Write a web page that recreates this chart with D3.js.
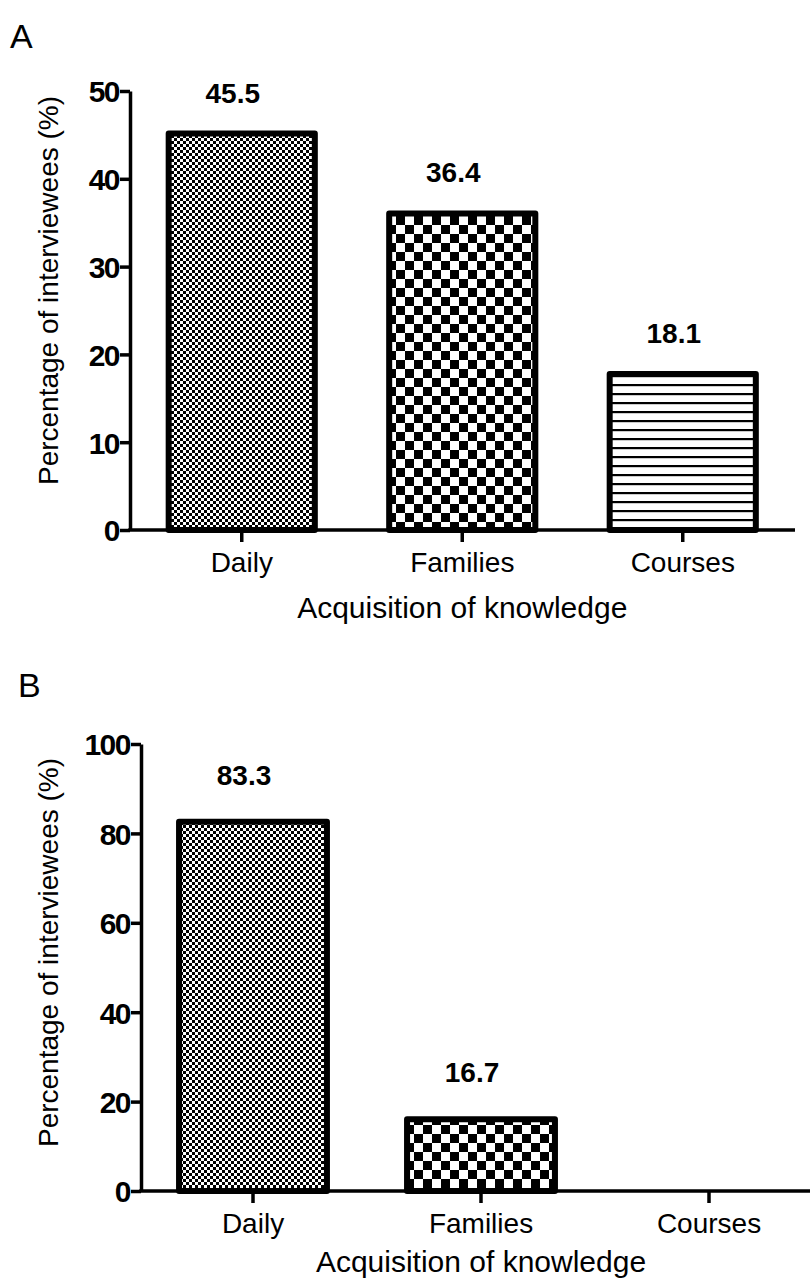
<!DOCTYPE html>
<html>
<head>
<meta charset="utf-8">
<script src="https://cdn.jsdelivr.net/npm/d3@7"></script>
<style>
  html, body { margin: 0; padding: 0; background: #fff; }
  svg { display: block; }
  text { font-family: "Liberation Sans", Arial, sans-serif; fill: #000; }
</style>
</head>
<body>
<svg id="chart" width="810" height="1285"></svg>
<script>
// ---- data ----
const categories = ["Daily", "Families", "Courses"];
const valuesA = [45.5, 36.4, 18.1];
const valuesB = [83.3, 16.7, 0];
const labelsA = ["45.5", "36.4", "18.1"];
const labelsB = ["83.3", "16.7", ""];
const ticksA = [0, 10, 20, 30, 40, 50];
const ticksB = [0, 20, 40, 60, 80, 100];
const patternIds = ["fineChecker", "coarseChecker", "hLines"];
const xTitle = "Acquisition of knowledge";
const yTitle = "Percentage of interviewees (%)";

const svg = d3.select("#chart");
svg.append("rect").attr("width", 810).attr("height", 1285).attr("fill", "#fff");

// ---- patterns ----
const defs = svg.append("defs");
function checker(id, s) {
  const p = defs.append("pattern").attr("id", id).attr("patternUnits", "userSpaceOnUse")
    .attr("width", 2 * s).attr("height", 2 * s);
  p.append("rect").attr("width", 2 * s).attr("height", 2 * s).attr("fill", "#fff");
  p.append("rect").attr("x", 0).attr("y", 0).attr("width", s).attr("height", s).attr("fill", "#000");
  p.append("rect").attr("x", s).attr("y", s).attr("width", s).attr("height", s).attr("fill", "#000");
}
checker("fineChecker", 3);
checker("coarseChecker", 9);
{
  const p = defs.append("pattern").attr("id", "hLines").attr("patternUnits", "userSpaceOnUse")
    .attr("width", 9).attr("height", 9);
  p.append("rect").attr("width", 9).attr("height", 9).attr("fill", "#fff");
  p.append("rect").attr("x", 0).attr("y", 6).attr("width", 9).attr("height", 2.2).attr("fill", "#000");
}

function panel(cfg) {
  const g = svg.append("g");
  const x = d3.scaleBand().domain(categories).range(cfg.xRange)
    .paddingInner(cfg.pad).paddingOuter(cfg.pad / 2);
  const y = d3.scaleLinear().domain([0, d3.max(cfg.ticks)]).range(cfg.yRange);
  const sw = 6;

  // bars
  categories.forEach((c, i) => {
    const v = cfg.values[i];
    if (v <= 0) return;
    g.append("rect")
      .attr("x", x(c) + sw / 2)
      .attr("y", y(v) + sw / 2)
      .attr("width", x.bandwidth() - sw)
      .attr("height", y(0) - y(v) - sw / 2)
      .attr("fill", `url(#${patternIds[i]})`)
      .attr("stroke", "#000")
      .attr("stroke-width", sw)
      .attr("stroke-linejoin", "round");
    g.append("text")
      .attr("x", x(c) + x.bandwidth() / 2 - 9)
      .attr("y", y(v) - cfg.labelGap)
      .attr("text-anchor", "middle")
      .attr("font-size", 28).attr("font-weight", "bold")
      .text(cfg.labels[i]);
  });

  // y axis
  const ya = g.append("g").attr("transform", `translate(${cfg.axisX},0)`)
    .call(d3.axisLeft(y).tickValues(cfg.ticks).tickSize(10).tickSizeOuter(0).tickPadding(1));
  ya.select(".domain").attr("stroke-width", 3.5).attr("stroke", "#000");
  ya.selectAll(".tick line").attr("stroke-width", 3.5).attr("stroke", "#000");
  ya.selectAll(".tick text").attr("font-size", 30).attr("font-weight", "bold")
    .attr("font-family", "Liberation Sans, Arial, sans-serif").attr("fill", "#000")
    .attr("letter-spacing", "-1.5px").attr("dy", "0.36em");

  // x axis
  const xa = g.append("g").attr("transform", `translate(0,${y(0)})`)
    .call(d3.axisBottom(x).tickSize(12).tickSizeOuter(0).tickPadding(10));
  xa.select(".domain").remove();
  xa.append("line").attr("x1", cfg.axisX - 1.75).attr("x2", cfg.xEnd)
    .attr("stroke", "#000").attr("stroke-width", 3.5);
  xa.selectAll(".tick line").attr("stroke-width", 3.5).attr("stroke", "#000");
  xa.selectAll(".tick text").attr("font-size", 28)
    .attr("font-family", "Liberation Sans, Arial, sans-serif").attr("fill", "#000");

  // titles
  g.append("text")
    .attr("x", (cfg.xRange[0] + cfg.xRange[1]) / 2)
    .attr("y", y(0) + cfg.titleOffset)
    .attr("text-anchor", "middle").attr("font-size", 30)
    .text(xTitle);
  g.append("text")
    .attr("transform", `translate(58,${(y(0) + y(d3.max(cfg.ticks))) / 2 - cfg.yTitleShift}) rotate(-90)`)
    .attr("text-anchor", "middle").attr("font-size", 28)
    .text(yTitle);
  g.append("text").attr("x", cfg.letterX).attr("y", cfg.letterY)
    .attr("font-size", 34).text(cfg.letter);
}

panel({
  letter: "A", letterX: 10, letterY: 48,
  values: valuesA, labels: labelsA, ticks: ticksA,
  xRange: [131.5, 793], yRange: [530, 91], pad: 0.31,
  axisX: 130, xEnd: 795, labelGap: 28, titleOffset: 88, yTitleShift: 20
});
panel({
  letter: "B", letterX: 18, letterY: 697,
  values: valuesB, labels: labelsB, ticks: ticksB,
  xRange: [139, 823], yRange: [1191, 744], pad: 0.325,
  axisX: 141, xEnd: 810, labelGap: 34, titleOffset: 81, yTitleShift: 15
});
</script>
</body>
</html>
